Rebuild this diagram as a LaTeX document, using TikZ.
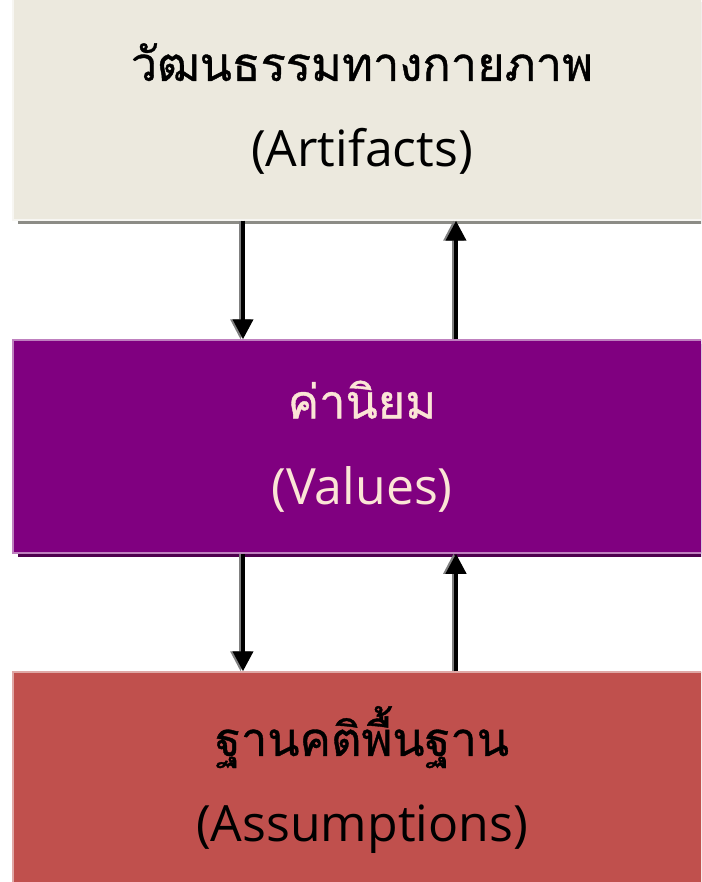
\documentclass[tikz,border=0pt]{standalone}
\usepackage{fontspec}
\setmainfont{Open Sans}
\newfontfamily\thaifont[Script=Thai,Scale=0.94,FakeBold=0.8]{Loma}
\usetikzlibrary{arrows.meta}
\usetikzlibrary{shadows}
\definecolor{artfill}{HTML}{ECE9DE}
\definecolor{artshade}{HTML}{8C8C86}
\definecolor{valfill}{HTML}{800080}
\definecolor{valshade}{HTML}{4E004E}
\definecolor{valtext}{HTML}{FBE5D6}
\definecolor{assfill}{HTML}{C0504D}
\definecolor{assshade}{HTML}{7A302E}
\tikzset{
      layer/.style={rectangle, minimum width=698pt, align=center, inner sep=0pt,
            line width=1.5pt, font=\fontsize{50}{86}\selectfont},
      flow/.style={line width=4pt, -{Triangle[width=20pt,length=20pt]},
            preaction={draw=gray, line width=3pt, transform canvas={xshift=-2.5pt}}},
}

\begin{document}
\begin{tikzpicture}[x=1pt,y=1pt]
        \useasboundingbox (0,0) rectangle (701,-882);
        \clip (0,0) rectangle (701,-882);

        % the three layers
        \node[layer, fill=artfill, draw=artfill!40!white, minimum height=222pt,
              drop shadow={shadow xshift=5pt, shadow yshift=-4pt, fill=artshade, opacity=1}]
              (art) at (362,-109) {{\thaifont วัฒนธรรมทางกายภาพ}\\(Artifacts)};
        \node[layer, fill=valfill, draw=valfill!50!white, text=valtext, minimum height=213pt,
              drop shadow={shadow xshift=5pt, shadow yshift=-4pt, fill=valshade, opacity=1}]
              (val) at (362,-446.5) {{\thaifont ค่านิยม}\\(Values)};
        \node[layer, fill=assfill, draw=assfill!50!white, minimum height=216pt]
              (ass) at (362,-780) {{\thaifont ฐานคติพื้นฐาน}\\(Assumptions)};

        % the arrows between them
        \coordinate (dn) at (243,0);
        \coordinate (up) at (456,0);
        \draw[flow] (art.south -| dn) -- (val.north -| dn);
        \draw[flow] (val.north -| up) -- (art.south -| up);
        \draw[flow] (val.south -| dn) -- (ass.north -| dn);
        \draw[flow] (ass.north -| up) -- (val.south -| up);

\end{tikzpicture}
\end{document}
